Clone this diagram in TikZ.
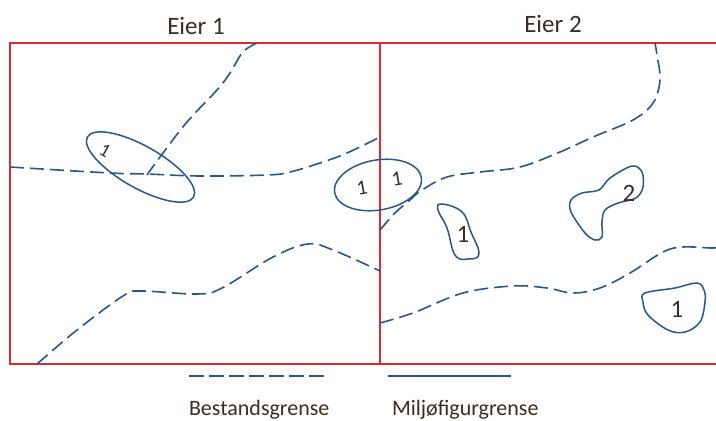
\documentclass[tikz,border=0pt]{standalone}
\usepackage{fontspec}
\setmainfont{Carlito}
\usepackage{tikz}
\usetikzlibrary{calc}

\definecolor{framered}{RGB}{222,40,52}
\definecolor{lineblue}{RGB}{38,88,140}
\definecolor{textbrown}{RGB}{62,44,34}

\begin{document}
\begin{tikzpicture}[x=1pt, y=-1pt, outer sep=0pt]
  \newcommand{\eierfont}{\fontsize{25}{30}\selectfont}
  \newcommand{\numfont}{\fontsize{25}{30}\selectfont}
  \newcommand{\smallnumfont}{\fontsize{21}{25}\selectfont}
  \newcommand{\legendfont}{\fontsize{22}{26}\selectfont}

  \tikzstyle{frame}=[draw=framered, line width=1.8pt]
  \tikzstyle{bgrense}=[draw=lineblue, line width=1.6pt, dash pattern=on 14pt off 6pt]
  \tikzstyle{mgrense}=[draw=lineblue, line width=1.5pt]
  \tikzstyle{num}=[inner sep=0pt, text=textbrown, font=\numfont]
  \tikzstyle{legend}=[inner sep=0pt, anchor=base west, text=textbrown, font=\legendfont]

  \useasboundingbox (0,0) rectangle (716,421);
  \clip (0,0) rectangle (716,421);

  % eiendommer
  \draw[frame] (10,43) rectangle (380,364);
  \draw[frame] (380,43) -- (724,43);
  \draw[frame] (380,364) -- (724,364);
  \node[num, font=\eierfont] (eier1) at (196,26) {Eier 1};
  \node[num, font=\eierfont] (eier2) at (553,23.5) {Eier 2};

  % bestandsgrenser
  \draw[bgrense] plot[smooth, tension=0.6] coordinates {(257,43) (243,52) (230,73) (217,90) (187,122) (160,157) (147,175)};
  \draw[bgrense] plot[smooth, tension=0.6] coordinates {(10,167) (110,173) (147,174) (200,176) (267,175) (290,172) (320,163) (347,153) (380,137)};
  \draw[bgrense] plot[smooth, tension=0.6] coordinates {(380,230) (395,213) (410,200) (422,190) (447,177) (480,172) (520,167) (560,152) (593,137) (633,120) (653,103) (660,80) (657,55) (655,43)};
  \draw[bgrense] plot[smooth, tension=0.6] coordinates {(37,364) (77,330) (123,296) (140,291) (197,294) (222,288) (273,257) (308,244) (333,250) (380,271)};
  \draw[bgrense] plot[smooth, tension=0.6] coordinates {(380,323) (413,313) (463,293) (513,286) (547,288) (573,293) (600,288) (630,273) (663,252) (683,247) (713,248) (722,246)};

  % miljofigurer
  \draw[mgrense, rotate around={-29.5:(140.5,167)}] (140.5,167) ellipse [x radius=61, y radius=21];
  \draw[mgrense, rotate around={10:(378,185)}] (378,185) ellipse [x radius=44, y radius=25];
  \draw[mgrense] plot[smooth cycle, tension=0.7] coordinates {(442,204) (462,212) (471,232) (479,254) (468,259) (455,255) (447,228) (438,210)};
  \draw[mgrense] plot[smooth cycle, tension=0.55] coordinates {(599,190) (610,178) (632,166) (642,172) (643,187) (636,198) (618,203) (605,210) (602,222) (602,237) (595,240) (585,233) (571,212) (571,200) (582,193)};
  \draw[mgrense] plot[smooth cycle, tension=0.6] coordinates {(645,293) (675,288) (697,283) (704,290) (705,302) (700,322) (685,332) (668,330) (648,315) (643,302)};

  \node[num, font=\fontsize{19}{22}\selectfont, rotate=-30] (n1) at (105,151) {1};
  \node[num, font=\smallnumfont, rotate=10] (n2) at (362,188) {1};
  \node[num, font=\smallnumfont, rotate=10] (n3) at (397,179) {1};
  \node[num] (n4) at (463,234) {1};
  \node[num] (n5) at (629,193) {2};
  \node[num] (n6) at (677,309) {1};

  % tegnforklaring
  \coordinate (bstart) at (189,376);
  \coordinate (bend) at (325,376);
  \coordinate (mstart) at (388,376);
  \coordinate (mend) at (511,376);
  \draw[bgrense, dash pattern=on 15pt off 5pt] (bstart) -- (bend);
  \draw[mgrense] (mstart) -- (mend);
  \node[legend] (btext) at (189,415.5) {Bestandsgrense};
  \node[legend] (mtext) at (392,415.5) {Miljøfigurgrense};

\end{tikzpicture}
\end{document}
